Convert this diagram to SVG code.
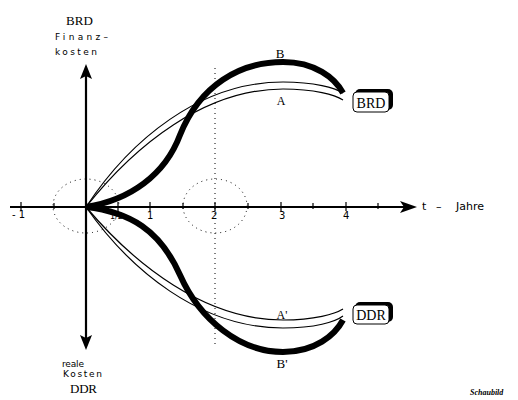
<svg xmlns="http://www.w3.org/2000/svg" width="518" height="400" viewBox="0 0 518 400">
<style>
.thin{fill:none;stroke:#000;stroke-width:1.2}
.thick{fill:none;stroke:#000;stroke-width:6;stroke-linecap:butt}
.axis{stroke:#000;stroke-width:2.2;fill:none}
.dot{fill:none;stroke:#000;stroke-width:1;stroke-dasharray:1 4}
.tick{stroke:#000;stroke-width:1.2}
.sans{font-family:"DejaVu Sans","Liberation Sans",sans-serif;fill:#000}
.serif{font-family:"Liberation Serif","DejaVu Serif",serif;fill:#000}
</style>
<rect width="518" height="400" fill="#fff"/>
<g id="guides">
<ellipse class="dot" cx="86" cy="206" rx="33" ry="27"/>
<ellipse class="dot" cx="215" cy="206" rx="32" ry="27"/>
<line class="dot" x1="215" y1="68" x2="215" y2="345"/>
</g>
<g id="axes">
<line class="axis" x1="10" y1="207" x2="404" y2="207"/>
<polygon points="400,201 417,207 400,213 404,207" fill="#000"/>
<line class="axis" x1="86" y1="76" x2="86" y2="338"/>
<polygon points="86,64 92,79 86,76 80,79" fill="#000"/>
<polygon points="86,350 92,335 86,338 80,335" fill="#000"/>
<g class="tick">
<line x1="21" y1="202" x2="21" y2="211"/>
<line x1="54" y1="203" x2="54" y2="209"/>
<line x1="118" y1="202" x2="118" y2="211"/>
<line x1="150" y1="202" x2="150" y2="211"/>
<line x1="183" y1="203" x2="183" y2="209"/>
<line x1="215" y1="202" x2="215" y2="211"/>
<line x1="248" y1="203" x2="248" y2="209"/>
<line x1="281" y1="202" x2="281" y2="211"/>
<line x1="313" y1="203" x2="313" y2="209"/>
<line x1="346" y1="202" x2="346" y2="211"/>
<line x1="378" y1="203" x2="378" y2="209"/>
</g>
<g class="sans" font-size="10">
<text x="12" y="218">- 1</text>
<text x="110" y="219" font-size="8">1/2</text>
<text x="147" y="219">1</text>
<text x="211" y="219">2</text>
<text x="279" y="219">3</text>
<text x="343" y="219">4</text>
</g>
<text class="sans" font-size="11" y="210"><tspan x="422">t</tspan><tspan x="436">–</tspan><tspan x="456">Jahre</tspan></text>
</g>
<g id="connectors">
<path id="A1" class="thin" d="M86,207 C130,140 200,82 283,82 C315,82 335,88 343,93"/>
<path id="A2" class="thin" d="M86,207 C135,145 205,89 283,89 C315,89 335,95 343,100"/>
<path id="B" class="thick" d="M86,207 C130,200 165,175 180,135 C200,85 240,62 283,62 C315,62 335,78 343,93"/>
<path id="A1p" class="thin" d="M86,207 C130,270 200,328 283,328 C315,328 335,322 343,316"/>
<path id="A2p" class="thin" d="M86,207 C135,265 205,320 283,320 C315,320 335,314 343,309"/>
<path id="Bp" class="thick" d="M86,207 C130,212 160,230 180,275 C200,320 240,352 283,352 C315,352 335,335 343,320"/>
</g>
<g id="labels">
<text class="serif" x="280" y="58" font-size="13" text-anchor="middle">B</text>
<text class="serif" x="281" y="105" font-size="12" text-anchor="middle">A</text>
<text class="serif" x="282" y="319" font-size="12" text-anchor="middle">A'</text>
<text class="serif" x="282" y="368" font-size="13" text-anchor="middle">B'</text>
</g>
<g id="brd-box">
<rect x="355" y="89" width="38" height="21" rx="5" fill="#000"/>
<rect x="353" y="92" width="36" height="20" rx="4" fill="#fff" stroke="#000" stroke-width="1"/>
<text class="serif" x="371" y="107.5" font-size="14" text-anchor="middle">BRD</text>
</g>
<g id="ddr-box">
<rect x="355" y="302" width="38" height="20" rx="5" fill="#000"/>
<rect x="353" y="305" width="36" height="19" rx="4" fill="#fff" stroke="#000" stroke-width="1"/>
<text class="serif" x="371" y="320" font-size="14" text-anchor="middle">DDR</text>
</g>
<g id="y-top-label">
<text class="serif" x="66" y="25" font-size="13" textLength="27">BRD</text>
<text class="sans" x="55" y="40" font-size="9" textLength="53">Finanz–</text>
<text class="sans" x="55" y="55" font-size="9" textLength="42">kosten</text>
</g>
<g id="y-bottom-label">
<text class="sans" x="62" y="367" font-size="9" textLength="22">reale</text>
<text class="sans" x="63" y="377" font-size="9" textLength="39">Kosten</text>
<text class="serif" x="70" y="393" font-size="13" textLength="27">DDR</text>
</g>
<text class="serif" x="470" y="395" font-size="8" font-style="italic" font-weight="bold">Schaubild</text>
</svg>
